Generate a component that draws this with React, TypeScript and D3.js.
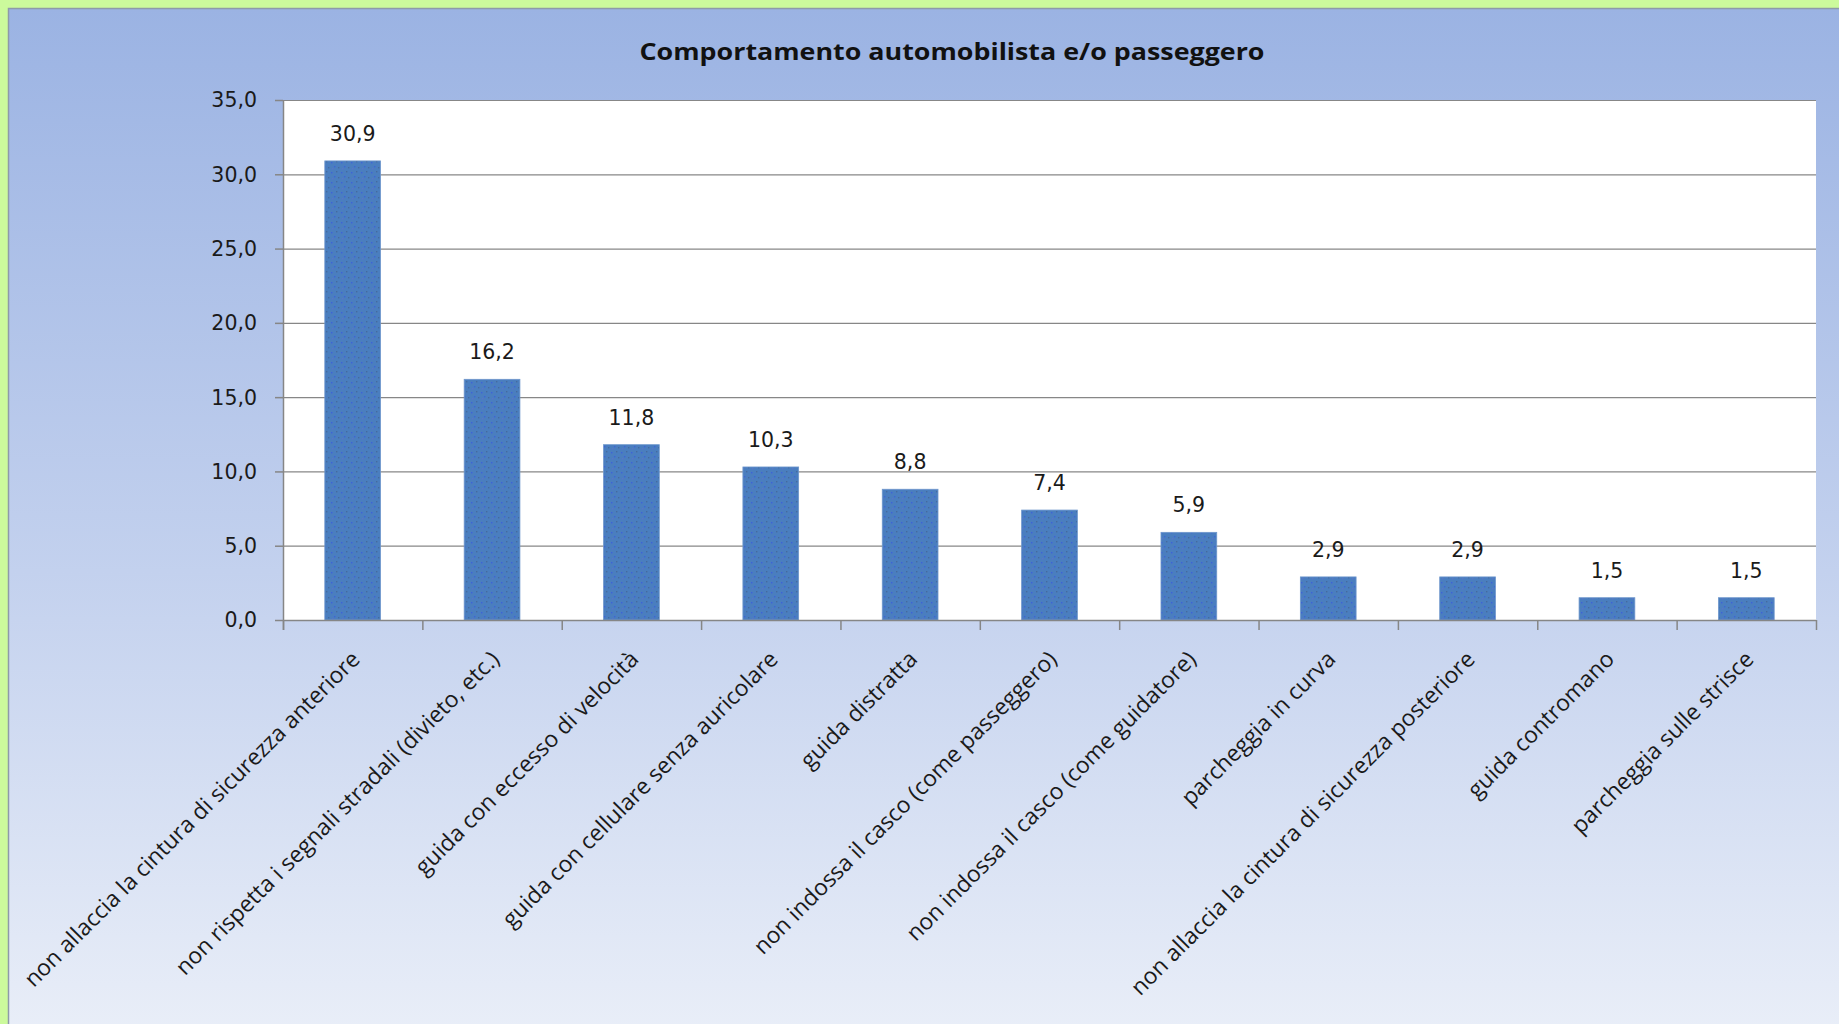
import React, { useEffect, useRef } from "react";
import * as d3 from "d3";

const title = "Comportamento automobilista e/o passeggero";
const categories = [
  "non allaccia la cintura di sicurezza anteriore",
  "non rispetta i segnali stradali (divieto, etc.)",
  "guida con eccesso di velocità",
  "guida con cellulare senza auricolare",
  "guida distratta",
  "non indossa il casco (come passeggero)",
  "non indossa il casco (come guidatore)",
  "parcheggia in curva",
  "non allaccia la cintura di sicurezza posteriore",
  "guida contromano",
  "parcheggia sulle strisce",
];
const values = [30.9, 16.2, 11.8, 10.3, 8.8, 7.4, 5.9, 2.9, 2.9, 1.5, 1.5];
const yTicks = [0, 5, 10, 15, 20, 25, 30, 35];

const W = 1839;
const H = 1024;
const fmt = (v: number) => v.toFixed(1).replace(".", ",");

export default function App() {
  const ref = useRef<SVGSVGElement>(null);
  useEffect(() => {
    const svg = d3.select(ref.current);
    svg.selectAll("*").remove();

    const left = 283, right = 1816, top = 100, bottom = 620;
    const x = d3.scaleBand<string>().domain(categories).range([left, right]).padding(0);
    const y = d3.scaleLinear().domain([0, 35]).range([bottom, top]);
    const barW = x.bandwidth() / 2.5;

    const defs = svg.append("defs");
    const grad = defs.append("linearGradient").attr("id", "bg").attr("x1", 0).attr("y1", 0).attr("x2", 0).attr("y2", 1);
    grad.append("stop").attr("offset", "0%").attr("stop-color", "#9bb3e3");
    grad.append("stop").attr("offset", "55%").attr("stop-color", "#c3d1ee");
    grad.append("stop").attr("offset", "100%").attr("stop-color", "#e9eef8");

    const pat = defs.append("pattern").attr("id", "dots").attr("width", 10).attr("height", 10).attr("patternUnits", "userSpaceOnUse");
    pat.append("rect").attr("width", 10).attr("height", 10).attr("fill", "#4a7ebf");
    const dotPts = [[1, 2, "#3d62d8"], [6, 1, "#456a9e"], [4, 6, "#3d62d8"], [8, 7, "#456a9e"], [2, 8, "#5a74c8"]];
    dotPts.forEach(([dx, dy, c]) => {
      pat.append("rect").attr("x", dx as number).attr("y", dy as number).attr("width", 1.4).attr("height", 1.4).attr("fill", c as string);
    });

    svg.append("rect").attr("width", W).attr("height", H).attr("fill", "#ccfa9c");
    svg.append("rect").attr("x", 8.5).attr("y", 8.5).attr("width", W).attr("height", H)
      .attr("fill", "url(#bg)").attr("stroke", "#8e9aa8").attr("stroke-width", 1.5);

    svg.append("rect").attr("x", left).attr("y", top).attr("width", right - left).attr("height", bottom - top).attr("fill", "#ffffff");

    svg.append("g").selectAll("line").data(yTicks.filter((t) => t > 0)).join("line")
      .attr("x1", left).attr("x2", right).attr("y1", (d) => y(d) + 0.5).attr("y2", (d) => y(d) + 0.5)
      .attr("stroke", "#878787").attr("stroke-width", 1.2);

    svg.append("g").selectAll("rect").data(values).join("rect")
      .attr("x", (d, i) => x(categories[i])! + x.bandwidth() / 2 - barW / 2)
      .attr("y", (d) => y(d))
      .attr("width", barW)
      .attr("height", (d) => bottom - y(d))
      .attr("fill", "url(#dots)")
      .attr("stroke", "#6f97cc").attr("stroke-width", 0.8);

    svg.append("g").selectAll("text").data(values).join("text")
      .attr("x", (d, i) => x(categories[i])! + x.bandwidth() / 2)
      .attr("y", (d) => y(d) - 20)
      .attr("text-anchor", "middle")
      .attr("font-family", "DejaVu Sans")
      .attr("font-size", 20.5)
      .attr("fill", "#1a1a1a")
      .text((d) => fmt(d));

    const ya = svg.append("g");
    ya.append("line").attr("x1", left + 0.5).attr("x2", left + 0.5).attr("y1", top).attr("y2", bottom + 10)
      .attr("stroke", "#868686").attr("stroke-width", 1.5);
    ya.selectAll("line.t").data(yTicks).join("line").attr("class", "t")
      .attr("x1", left - 8).attr("x2", left).attr("y1", (d) => y(d) + 0.5).attr("y2", (d) => y(d) + 0.5)
      .attr("stroke", "#868686").attr("stroke-width", 1.5);
    ya.selectAll("text").data(yTicks).join("text")
      .attr("x", 257).attr("y", (d) => y(d)).attr("dy", "0.36em")
      .attr("text-anchor", "end").attr("font-family", "DejaVu Sans").attr("font-size", 20.5).attr("fill", "#1a1a1a")
      .text((d) => fmt(d));

    const xa = svg.append("g");
    xa.append("line").attr("x1", left).attr("x2", right).attr("y1", bottom + 0.5).attr("y2", bottom + 0.5)
      .attr("stroke", "#868686").attr("stroke-width", 1.5);
    const bounds = categories.map((c) => x(c)!).concat([right]);
    xa.selectAll("line.t").data(bounds).join("line").attr("class", "t")
      .attr("x1", (d) => d + 0.5).attr("x2", (d) => d + 0.5).attr("y1", bottom).attr("y2", bottom + 10)
      .attr("stroke", "#868686").attr("stroke-width", 1.5);
    xa.selectAll("text").data(categories).join("text")
      .attr("transform", (d) => `translate(${x(d)! + x.bandwidth() / 2 + 3},${bottom + 35}) rotate(-45)`)
      .attr("text-anchor", "end").attr("dy", "0.35em")
      .attr("font-family", "Open Sans").attr("font-size", 22.8).attr("fill", "#1a1a1a")
      .text((d) => d);

    svg.append("text").attr("x", 952).attr("y", 60).attr("text-anchor", "middle")
      .attr("font-family", "Open Sans").attr("font-weight", "bold").attr("font-size", 23).attr("fill", "#111")
      .attr("textLength", 625).attr("lengthAdjust", "spacingAndGlyphs")
      .text(title);
  }, []);

  return (
    <div style={{ position: "absolute", left: 0, top: 0 }}>
      <svg ref={ref} width={W} height={H} style={{ display: "block" }} />
    </div>
  );
}
